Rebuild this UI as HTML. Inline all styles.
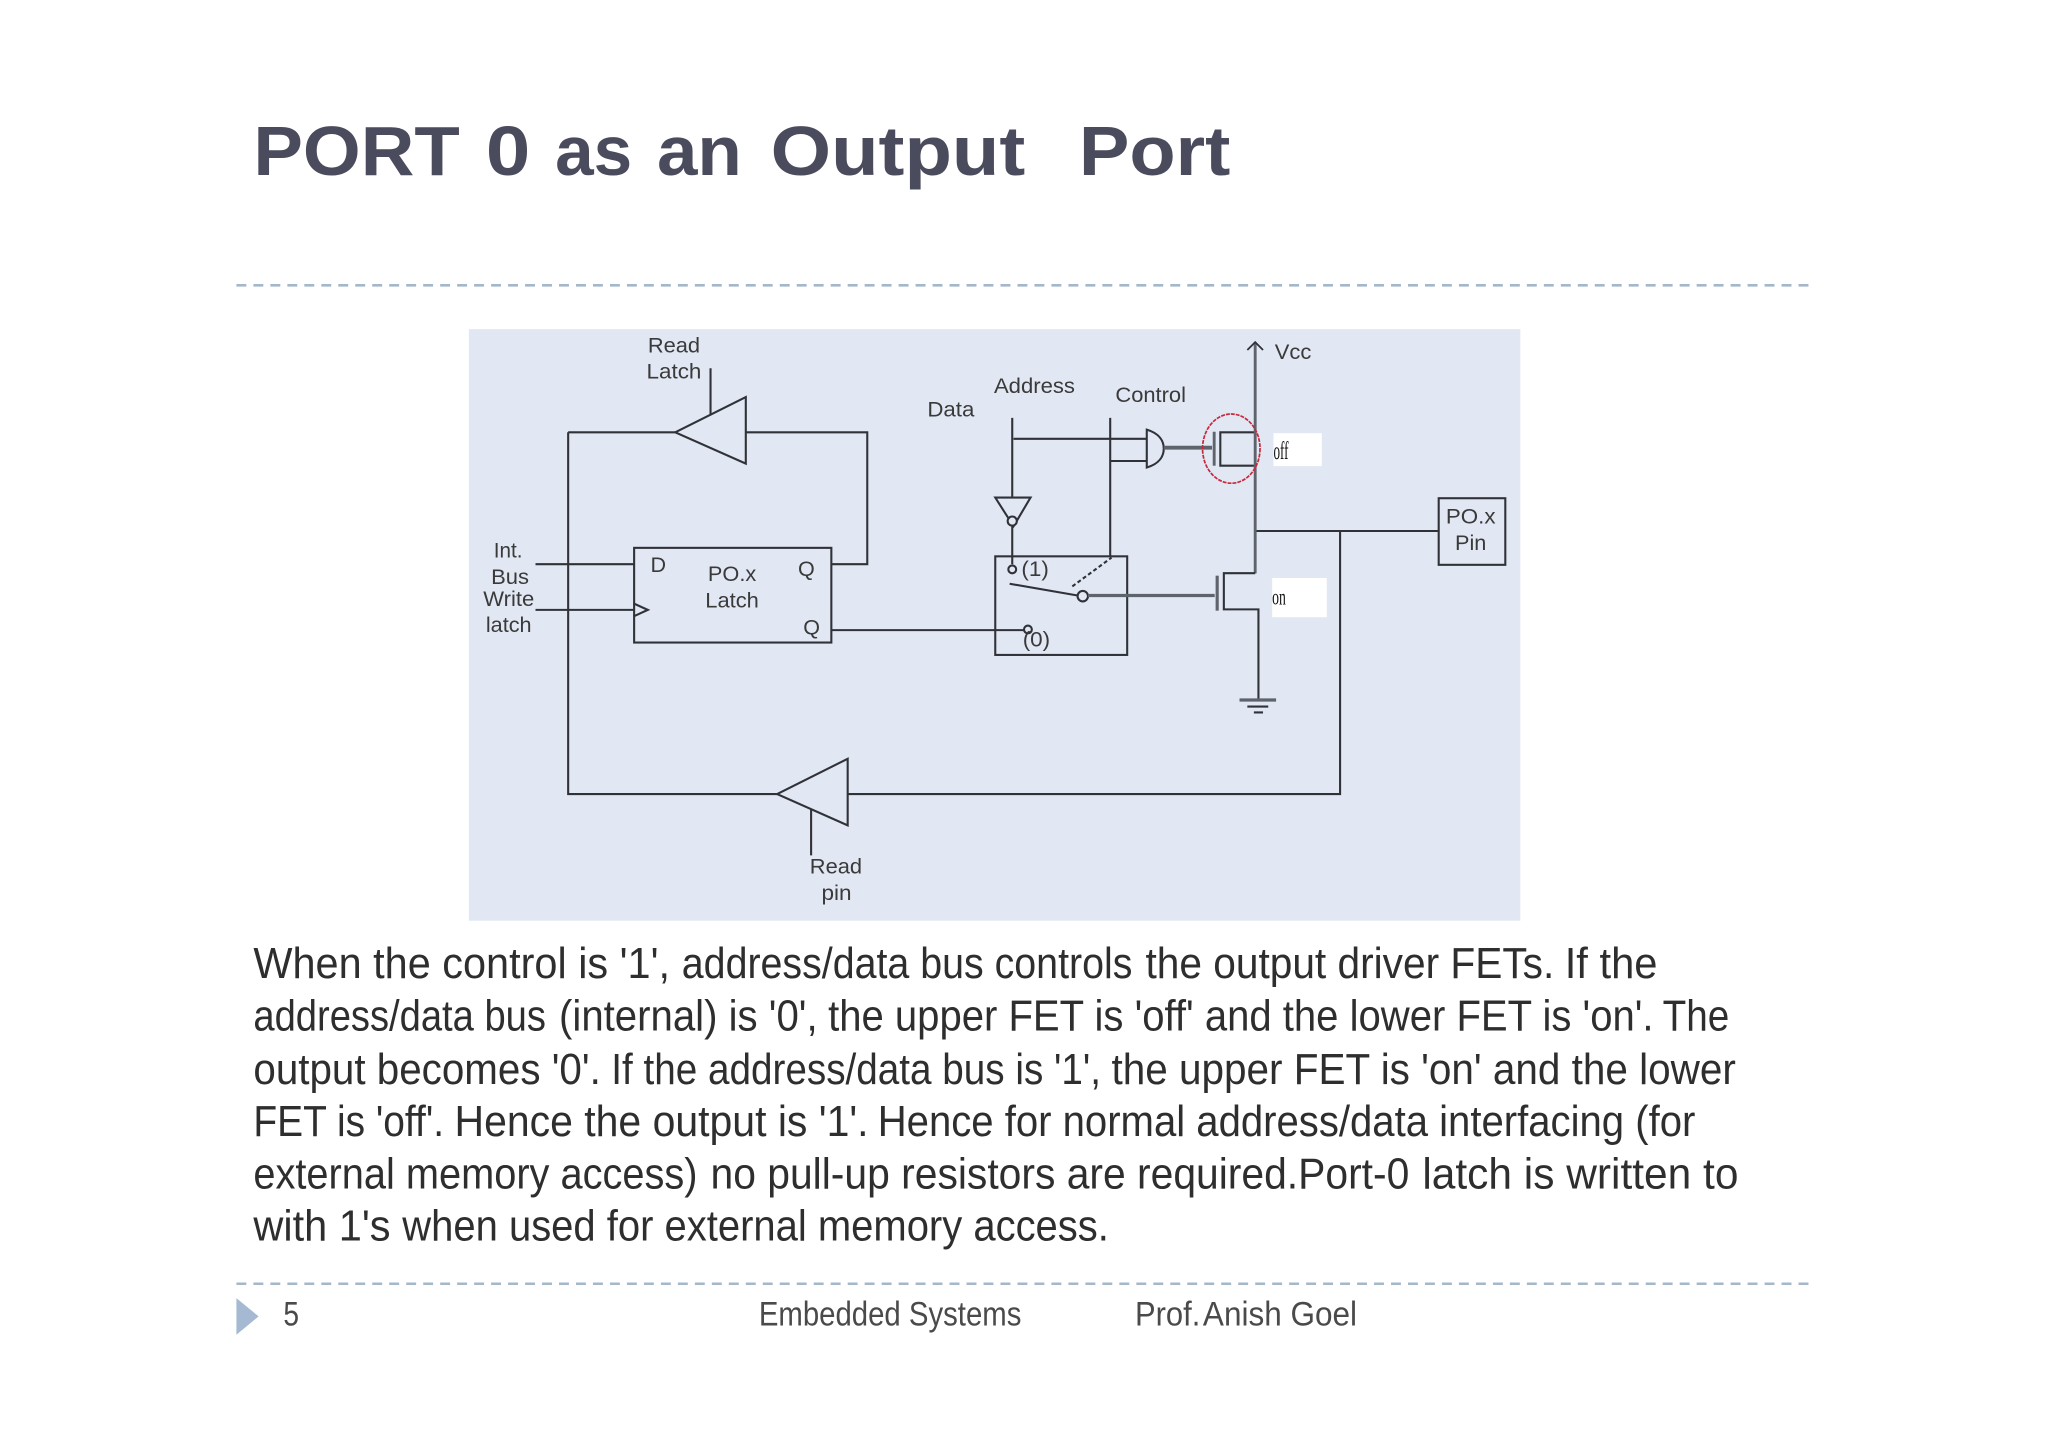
<!DOCTYPE html>
<html><head><meta charset="utf-8"><style>
html,body{margin:0;padding:0;background:#fff;width:2048px;height:1447px;overflow:hidden}
svg{display:block}
.b{font-family:"Liberation Sans",sans-serif;font-size:33px;fill:#2e2e2e}
.f{font-family:"Liberation Sans",sans-serif;font-size:26px;fill:#4a4a4a}
.l{font-family:"Liberation Sans",sans-serif;font-size:16.5px;fill:#3a3a3a}
.t{font-family:"Liberation Sans",sans-serif;font-size:53px;font-weight:700;fill:#4a4b5c}
.w{fill:none;stroke:#303238;stroke-width:1.6}
</style></head><body>
<svg xmlns="http://www.w3.org/2000/svg" width="2048" height="1447" viewBox="0 0 1568 1108" preserveAspectRatio="none">
<rect width="1568" height="1108" fill="#fff"/>
<g class="t">
<text x="194" y="134" textLength="158" lengthAdjust="spacingAndGlyphs">PORT</text>
<text x="372" y="134" textLength="34" lengthAdjust="spacingAndGlyphs">0</text>
<text x="425" y="134" textLength="59" lengthAdjust="spacingAndGlyphs">as</text>
<text x="503" y="134" textLength="65" lengthAdjust="spacingAndGlyphs">an</text>
<text x="590" y="134" textLength="195" lengthAdjust="spacingAndGlyphs">Output</text>
<text x="826" y="134" textLength="116" lengthAdjust="spacingAndGlyphs">Port</text>
</g>
<line x1="181" y1="218.500" x2="1387" y2="218.500" stroke="#a5b8ca" stroke-width="2" stroke-dasharray="7.600 5.400"/>
<line x1="181" y1="983" x2="1387" y2="983" stroke="#a5b8ca" stroke-width="2" stroke-dasharray="7.600 5.400"/>

<rect x="359" y="252" width="805" height="453" fill="#e1e7f3"/>
<g class="w">
<polygon points="517,331 571,304 571,355"/>
<path d="M435,331H517M571,331H664V432H636"/>
<path d="M435,331V608H595"/>
<polygon points="595,608 649,581 649,632"/>
<path d="M649,608H1026V407"/>
<path d="M961,406.600H1101"/>
<rect x="1101.500" y="381.500" width="51" height="51"/>
<path d="M544,282V318M621,620V655"/>
<rect x="485.500" y="419.500" width="151" height="72.500"/>
<path d="M410,432H485M410,467H485"/>
<path d="M485,462L496,467L485,472"/>
<path d="M636,482.500H787"/>
<rect x="762" y="426" width="101" height="75.500"/>
<path d="M775,320V381M776,336H878"/>
<path d="M850,320V426M850,353H878"/>
<path d="M878,329C888,332 891,338 891,343.500C891,349 888,355 878,358Z"/>
<path d="M891,342.800H928" stroke="#5f636b" stroke-width="3"/>
<path d="M929.600,330.600V356.600" stroke="#5f636b" stroke-width="2.200"/>
<path d="M961,331H934.300V356.600H961"/>
<path d="M961,262V439" stroke="#5f636b" stroke-width="2.200"/>
<path d="M955,268L961,262L967,268" stroke-width="1.400"/>
<path d="M762,381H789L776,403Z"/>
<path d="M775,403V432"/>
<circle cx="775" cy="399" r="3.500" fill="#e1e7f3"/>
<circle cx="775" cy="436" r="3" fill="#e1e7f3"/>
<circle cx="787" cy="482" r="3" fill="#e1e7f3"/>
<path d="M773,447L825,456"/>
<path d="M821,449L851,427" stroke-dasharray="3 2"/>
<circle cx="829" cy="456.500" r="4" fill="#e1e7f3"/>
<path d="M833,456H930" stroke="#5f636b" stroke-width="2.500"/>
<path d="M931.900,440.800V467.600" stroke="#5f636b" stroke-width="2.400"/>
<path d="M961,438.900H937V466.600H963.500V535"/>
<path d="M949,536H977" stroke="#5f636b" stroke-width="2.500"/>
<path d="M955,541H971M960,545.500H967"/>
</g>
<ellipse cx="942.700" cy="343.500" rx="22" ry="26.500" fill="none" stroke="#c8283c" stroke-width="1.300" stroke-dasharray="3 .8"/>
<rect x="975" y="331.700" width="37" height="25.200" fill="#fff"/>
<rect x="974" y="442.600" width="41.800" height="30" fill="#fff"/>
<text x="975" y="351.500" font-family="'Liberation Serif',serif" font-size="19" fill="#111" textLength="11.500" lengthAdjust="spacingAndGlyphs">off</text>
<text x="974" y="463" font-family="'Liberation Serif',serif" font-size="18" fill="#111" textLength="10.500" lengthAdjust="spacingAndGlyphs">on</text>

<g class="l">
<text x="496" y="270" textLength="40" lengthAdjust="spacingAndGlyphs">Read</text>
<text x="495" y="290" textLength="42" lengthAdjust="spacingAndGlyphs">Latch</text>
<text x="761" y="301" textLength="62" lengthAdjust="spacingAndGlyphs">Address</text>
<text x="710" y="319" textLength="36" lengthAdjust="spacingAndGlyphs">Data</text>
<text x="854" y="308" textLength="54" lengthAdjust="spacingAndGlyphs">Control</text>
<text x="976" y="275" textLength="28" lengthAdjust="spacingAndGlyphs">Vcc</text>
<text x="1107" y="401" textLength="38" lengthAdjust="spacingAndGlyphs">PO.x</text>
<text x="1114" y="421" textLength="24" lengthAdjust="spacingAndGlyphs">Pin</text>
<text x="378" y="427" textLength="22" lengthAdjust="spacingAndGlyphs">Int.</text>
<text x="376" y="447" textLength="29" lengthAdjust="spacingAndGlyphs">Bus</text>
<text x="370" y="464" textLength="39" lengthAdjust="spacingAndGlyphs">Write</text>
<text x="372" y="484" textLength="35" lengthAdjust="spacingAndGlyphs">latch</text>
<text x="498" y="438">D</text>
<text x="542" y="445" textLength="37" lengthAdjust="spacingAndGlyphs">PO.x</text>
<text x="540" y="465" textLength="41" lengthAdjust="spacingAndGlyphs">Latch</text>
<text x="611" y="441">Q</text>
<text x="615" y="486">Q</text>
<text x="782" y="441" textLength="21" lengthAdjust="spacingAndGlyphs">(1)</text>
<text x="783" y="495" textLength="21" lengthAdjust="spacingAndGlyphs">(0)</text>
<text x="620" y="669" textLength="40" lengthAdjust="spacingAndGlyphs">Read</text>
<text x="629" y="689" textLength="23" lengthAdjust="spacingAndGlyphs">pin</text>
</g>

<g class="b">
<text x="194" y="749" textLength="319" lengthAdjust="spacingAndGlyphs">When the control is '1',</text>
<text x="522" y="749" textLength="345" lengthAdjust="spacingAndGlyphs">address/data bus controls</text>
<text x="877" y="749" textLength="313" lengthAdjust="spacingAndGlyphs">the output driver FETs.</text>
<text x="1198" y="749" textLength="71" lengthAdjust="spacingAndGlyphs">If the</text>
<text x="194" y="789" textLength="224" lengthAdjust="spacingAndGlyphs">address/data bus</text>
<text x="428" y="789" textLength="198" lengthAdjust="spacingAndGlyphs">(internal) is '0',</text>
<text x="634" y="789" textLength="632" lengthAdjust="spacingAndGlyphs">the upper FET is 'off' and the lower FET is 'on'.</text>
<text x="1273" y="789" textLength="51" lengthAdjust="spacingAndGlyphs">The</text>
<text x="194" y="830" textLength="266" lengthAdjust="spacingAndGlyphs">output becomes '0'.</text>
<text x="468" y="830" textLength="375" lengthAdjust="spacingAndGlyphs">If the address/data bus is '1',</text>
<text x="851" y="830" textLength="478" lengthAdjust="spacingAndGlyphs">the upper FET is 'on' and the lower</text>
<text x="194" y="870" textLength="146" lengthAdjust="spacingAndGlyphs">FET is 'off'.</text>
<text x="348" y="870" textLength="317" lengthAdjust="spacingAndGlyphs">Hence the output is '1'.</text>
<text x="672" y="870" textLength="626" lengthAdjust="spacingAndGlyphs">Hence for normal address/data interfacing (for</text>
<text x="194" y="910" textLength="340" lengthAdjust="spacingAndGlyphs">external memory access)</text>
<text x="544" y="910" textLength="535" lengthAdjust="spacingAndGlyphs">no pull-up resistors are required.Port-0</text>
<text x="1089" y="910" textLength="242" lengthAdjust="spacingAndGlyphs">latch is written to</text>
<text x="194" y="950" textLength="105" lengthAdjust="spacingAndGlyphs">with 1's</text>
<text x="308" y="950" textLength="541" lengthAdjust="spacingAndGlyphs">when used for external memory access.</text>
</g>

<polygon points="181,994 198,1008 181,1022" fill="#a5bad2"/>
<g class="f">
<text x="217" y="1015" textLength="12" lengthAdjust="spacingAndGlyphs">5</text>
<text x="581" y="1015" textLength="201" lengthAdjust="spacingAndGlyphs">Embedded Systems</text>
<text x="869" y="1015" textLength="50" lengthAdjust="spacingAndGlyphs">Prof.</text>
<text x="921" y="1015" textLength="118" lengthAdjust="spacingAndGlyphs">Anish Goel</text>
</g>
</svg>
</body></html>
